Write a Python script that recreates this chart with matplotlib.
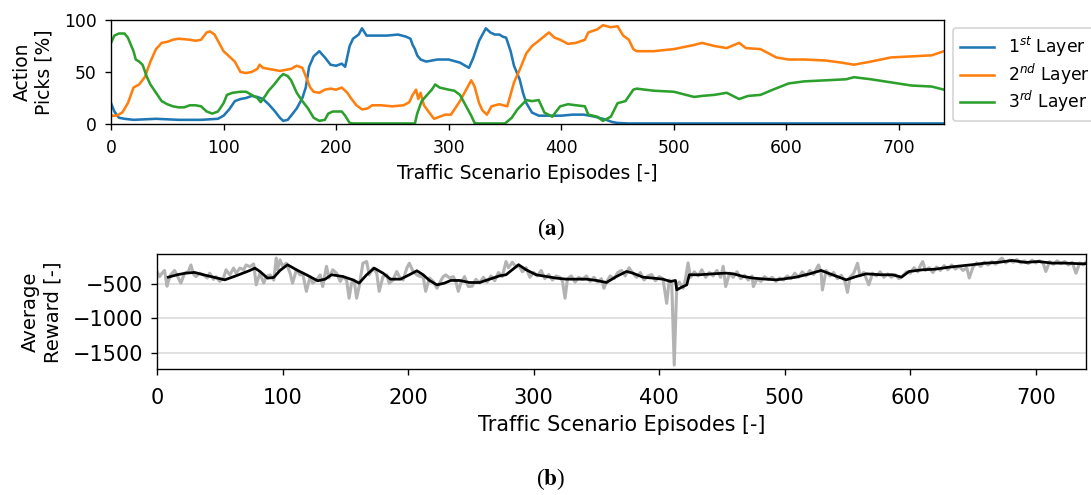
import matplotlib
matplotlib.use("Agg")
from matplotlib import pyplot as plt

# --- action picks per layer [%] ---
l1_x = [0, 3, 7, 12, 20, 40, 60, 80, 95, 100, 105, 110, 115, 120, 125, 130, 135, 140, 145, 150,
        153, 157, 160, 165, 170, 173, 176, 180, 185, 190, 195, 200, 205, 208, 212, 215, 220, 223,
        227, 235, 245, 255, 262, 266, 268, 270, 272, 275, 280, 290, 300, 310, 318, 322, 327, 333,
        337, 341, 345, 348, 351, 355, 358, 363, 366, 369, 374, 380, 385, 400, 410, 420, 430, 440,
        445, 450, 460, 740]
l1_y = [20, 12, 6, 5, 4, 5, 4, 4, 5, 8, 14, 22, 24, 25, 27, 26, 24, 19, 13, 6,
        3, 4, 8, 15, 25, 35, 55, 65, 70, 64, 57, 56, 58, 55, 75, 82, 86, 92,
        85, 85, 85, 86, 84, 82, 76, 72, 66, 62, 60, 62, 62, 59, 54, 64, 80, 92,
        88, 86, 86, 84, 83, 70, 56, 43, 30, 20, 11, 8, 8, 8, 9, 9, 7, 4,
        2, 1, 0.5, 0.5]

l2_x = [0, 5, 10, 15, 20, 25, 30, 35, 40, 45, 50, 55, 60, 70, 75, 80, 85, 88, 92, 95, 100, 105,
        110, 115, 120, 125, 130, 132, 135, 140, 150, 160, 165, 170, 173, 177, 180, 185, 190, 195,
        200, 205, 210, 213, 218, 223, 228, 232, 240, 250, 260, 265, 268, 271, 273, 275, 278, 282,
        287, 292, 297, 302, 310, 315, 320, 323, 327, 330, 334, 338, 345, 352, 358, 363, 369, 374,
        380, 389, 394, 399, 406, 413, 421, 424, 432, 437, 444, 450, 455, 460, 464, 467, 482, 500,
        518, 525, 536, 547, 558, 564, 577, 591, 602, 616, 635, 649, 660, 675, 693, 711, 729, 740]
l2_y = [8, 8, 11, 20, 35, 38, 45, 60, 72, 78, 79, 81, 82, 81, 80, 81, 88, 89, 86, 80, 70, 65,
        60, 50, 49, 50, 53, 57, 54, 53, 51, 53, 56, 54, 46, 35, 31, 30, 33, 34,
        33, 35, 30, 25, 18, 14, 15, 18, 18, 17, 18, 21, 28, 33, 24, 30, 18, 12,
        5, 7, 9, 9, 22, 32, 42, 36, 20, 13, 9, 17, 19, 17, 40, 52, 68, 75,
        80, 88, 83, 81, 77, 78, 81, 88, 91, 95, 93, 94, 85, 81, 72, 70, 70, 72,
        76, 78, 75, 73, 78, 73, 72, 64, 62, 62, 61, 59, 57, 60, 64, 65, 66, 70]

l3_x = [0, 3, 7, 12, 15, 20, 22, 25, 28, 32, 35, 40, 45, 50, 55, 60, 65, 70, 75, 80, 85, 90, 95,
        100, 103, 108, 115, 120, 125, 130, 133, 137, 140, 145, 150, 153, 157, 160, 165, 170, 175,
        180, 185, 190, 193, 197, 200, 205, 208, 212, 215, 270, 272, 276, 280, 285, 288, 292, 300,
        305, 310, 315, 320, 323, 326, 350, 356, 361, 369, 374, 380, 385, 392, 399, 406, 413, 421,
        424, 432, 437, 444, 450, 457, 464, 467, 482, 500, 518, 525, 536, 547, 558, 566, 577, 588,
        602, 616, 635, 653, 660, 675, 693, 711, 729, 740]
l3_y = [78, 85, 87, 87, 83, 70, 62, 60, 57, 45, 38, 30, 22, 19, 17, 16, 16, 18, 18, 17, 12, 10, 12,
        20, 28, 30, 31, 31, 28, 25, 21, 27, 32, 38, 45, 48, 46, 42, 30, 22, 15,
        6, 3, 4, 10, 12, 12, 12, 8, 1, 0.5, 0.5, 10, 22, 27, 33, 38, 35, 33,
        32, 28, 18, 8, 1, 0.5, 0.5, 6, 14, 23, 22, 23, 11, 7, 17, 19, 18, 17,
        9, 7, 3, 7, 20, 22, 33, 34, 32, 31, 26, 27, 28, 30, 24, 27, 28, 33,
        39, 41, 42, 43, 45, 43, 40, 37, 36, 33]

layer_labels = [r"1$^{st}$ Layer", r"2$^{nd}$ Layer", r"3$^{rd}$ Layer"]

# --- reward per episode (raw, grey) ---
raw_x = [0, 2, 4, 6, 8, 9, 11, 14, 17, 19, 22, 25, 27, 29, 31, 34, 37, 40, 42, 45, 47, 50, 53, 55,
         58, 61, 63, 66, 69, 71, 74, 77, 79, 82, 85, 87, 90, 93, 95, 96, 98, 100, 103, 106, 108,
         111, 114, 116, 119, 122, 124, 127, 130, 132, 135, 137, 140, 143, 146, 148, 151, 153, 155,
         157, 159, 161, 164, 167, 169, 172, 175, 177, 180, 183, 185, 188, 191, 193, 196, 199, 201,
         204, 207, 210, 212, 214, 217, 220, 223, 225, 228, 230, 233, 236, 238, 240, 242, 245, 248,
         251, 254, 257, 260, 263, 266, 269, 272, 275, 278, 280, 283, 286, 288, 291, 294, 297, 300,
         303, 306, 309, 312, 315, 318, 321, 323, 325, 327, 330, 333, 336, 339, 342, 345, 348, 351,
         354, 356, 358, 361, 364, 367, 370, 373, 376, 379, 382, 385, 388, 391, 394, 397, 400, 403,
         406, 408, 410, 412, 414, 416, 419, 421, 423, 425, 428, 431, 434, 437, 440, 443, 446, 449,
         451, 453, 456, 459, 462, 465, 468, 471, 474, 475, 478, 481, 484, 487, 490, 493, 496, 499,
         502, 505, 508, 511, 514, 517, 520, 523, 526, 527, 529, 530, 533, 536, 539, 542, 545, 548,
         550, 552, 555, 558, 560, 563, 565, 567, 570, 573, 576, 579, 582, 585, 588, 591, 594, 597,
         600, 603, 606, 608, 610, 612, 615, 618, 621, 624, 627, 630, 633, 636, 639, 642, 645, 647,
         650, 653, 656, 659, 662, 665, 668, 671, 673, 676, 679, 682, 685, 688, 691, 694, 697, 700,
         703, 706, 708, 711, 714, 717, 720, 723, 726, 729, 732, 735, 738, 740]
raw_y = [-315, -390, -340, -300, -530, -460, -360, -300, -410, -485, -340, -315, -220, -350, -390,
         -340, -365, -410, -340, -430, -390, -460, -410, -290, -365, -265, -340, -265, -290, -220,
         -245, -205, -510, -340, -485, -390, -365, -440, -120, -290, -145, -240, -195, -340, -485,
         -290, -365, -340, -605, -390, -485, -440, -365, -535, -240, -410, -290, -340, -460, -390,
         -440, -705, -485, -440, -705, -535, -195, -170, -365, -265, -340, -605, -390, -365, -485,
         -440, -315, -390, -440, -265, -195, -315, -365, -390, -390, -605, -410, -460, -560, -485,
         -390, -365, -410, -390, -460, -605, -485, -390, -535, -530, -430, -480, -400, -470, -380,
         -450, -330, -390, -170, -260, -180, -250, -220, -320, -260, -400, -330, -380, -300, -420,
         -360, -440, -380, -400, -460, -705, -420, -380, -470, -400, -430, -380, -460, -400, -470,
         -420, -560, -470, -380, -420, -330, -300, -380, -260, -340, -400, -330, -440, -380, -360,
         -450, -390, -420, -780, -440, -480, -1680, -520, -470, -560, -420, -190, -400, -320, -380,
         -290, -400, -330, -380, -300, -400, -240, -535, -340, -400, -320, -420, -370, -440, -380,
         -535, -420, -460, -390, -430, -400, -460, -410, -440, -380, -420, -340, -400, -320, -380,
         -300, -360, -250, -220, -330, -585, -300, -380, -330, -420, -370, -460, -620, -400, -340,
         -195, -380, -330, -420, -510, -340, -380, -320, -400, -350, -400, -360, -420, -380, -320,
         -340, -260, -320, -230, -170, -300, -260, -330, -250, -300, -230, -290, -220, -280, -240,
         -300, -260, -410, -250, -190, -240, -180, -220, -170, -210, -150, -120, -190, -150, -180,
         -140, -190, -160, -200, -150, -190, -160, -200, -315, -170, -210, -160, -200, -170, -220,
         -180, -340, -190, -220, -180]

# --- moving average (black) ---
avg_x = [9, 16, 23, 30, 37, 45, 54, 63, 74, 78, 82, 88, 93, 98, 104, 111, 119, 128, 134, 139, 148,
         156, 161, 167, 173, 180, 186, 194, 201, 207, 212, 217, 223, 229, 234, 241, 249, 257, 265,
         273, 278, 283, 288, 294, 302, 310, 318, 326, 334, 342, 350, 358, 366, 374, 379, 387, 395,
         403, 409, 413, 414, 418, 422, 424, 432, 443, 453, 459, 467, 475, 485, 493, 498, 509, 520,
         529, 538, 549, 557, 565, 576, 586, 593, 599, 610, 620, 631, 641, 649, 660, 670, 681, 692,
         702, 713, 723, 737, 740]
avg_y = [-398, -363, -339, -329, -363, -398, -437, -378, -300, -266, -315, -412, -402, -300, -217,
         -290, -363, -451, -427, -363, -388, -437, -485, -363, -266, -339, -427, -427, -363, -305,
         -363, -446, -510, -485, -446, -446, -476, -476, -427, -378, -363, -290, -217, -290, -363,
         -388, -412, -427, -427, -427, -446, -476, -388, -315, -339, -398, -412, -427, -461, -446,
         -583, -544, -510, -363, -363, -349, -339, -349, -388, -412, -427, -437, -427, -398, -349,
         -300, -363, -437, -388, -349, -363, -363, -398, -315, -290, -281, -252, -232, -217, -193,
         -183, -154, -183, -169, -193, -193, -203, -200]

W, H = 1091, 495
DPI = 123
fig = plt.figure(figsize=((W + 0.01) / DPI, (H + 0.01) / DPI), dpi=DPI)

# (a) action picks
ax1 = fig.add_axes([111 / W, 1 - 124 / H, 833 / W, 104 / H])
ax1.plot(l1_x, l1_y, color="tab:blue", lw=1.5, label=layer_labels[0])
ax1.plot(l2_x, l2_y, color="tab:orange", lw=1.5, label=layer_labels[1])
ax1.plot(l3_x, l3_y, color="tab:green", lw=1.5, label=layer_labels[2])
ax1.set_xlim(0, 740)
ax1.set_ylim(0, 100)
ax1.set_yticks([0, 50, 100])
ax1.tick_params(labelsize=10)
ax1.tick_params(axis="x", pad=5.5)
ax1.tick_params(axis="y", pad=5)
ax1.set_xlabel("Traffic Scenario Episodes [-]", fontsize=11)
ax1.set_ylabel("Action\nPicks [%]", fontsize=11, labelpad=6)
ax1.legend(loc="upper left", bbox_to_anchor=(953 / W, 1 - 28 / H), bbox_transform=fig.transFigure,
           fontsize=10, borderaxespad=0, labelspacing=0.15)

# (b) average reward
ax2 = fig.add_axes([157 / W, 1 - 369.5 / H, 929 / W, 115.5 / H])
ax2.grid(axis="y", color="#dddddd", lw=1)
ax2.set_axisbelow(True)
ax2.plot(raw_x, raw_y, color="#b3b3b3", lw=1.8)
ax2.plot(avg_x, avg_y, color="black", lw=1.6)
ax2.set_xlim(0, 740)
ax2.set_ylim(-1745, -60)
ax2.set_yticks([-500, -1000, -1500])
ax2.tick_params(labelsize=12.2)
ax2.tick_params(axis="x", pad=7.5)
ax2.tick_params(axis="y", pad=4.5)
ax2.set_xlabel("Traffic Scenario Episodes [-]", fontsize=12.1)
ax2.set_ylabel("Average\nReward [-]", fontsize=11.5, linespacing=1.25, labelpad=6)

fig.text(551 / W, 1 - 229 / H, r"($\mathbf{a}$)", ha="center", va="center", fontsize=13.5,
         family="Liberation Serif", math_fontfamily="stix")
fig.text(551 / W, 1 - 479 / H, r"($\mathbf{b}$)", ha="center", va="center", fontsize=13.5,
         family="Liberation Serif", math_fontfamily="stix")

fig.savefig("out.png", dpi=DPI)
